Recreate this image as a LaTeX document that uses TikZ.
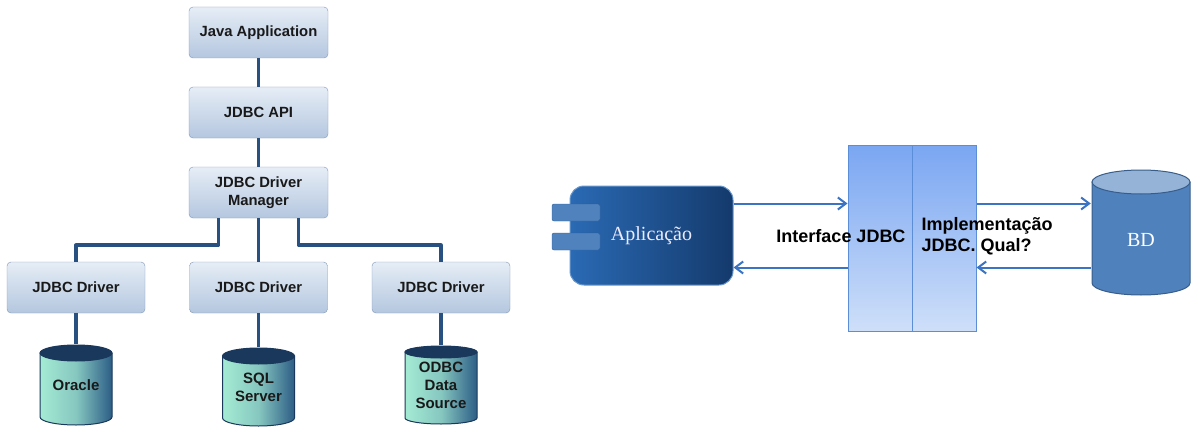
\documentclass[tikz,border=0pt]{standalone}
\usepackage{fontspec}
\setmainfont{Liberation Serif}
\setsansfont{Liberation Sans}
\usetikzlibrary{arrows.meta}

\definecolor{boxtop}{RGB}{230,237,246}
\definecolor{boxbottom}{RGB}{180,199,223}
\definecolor{boxedge}{RGB}{128,150,181}
\definecolor{linkblue}{RGB}{40,80,128}
\definecolor{dbnavy}{RGB}{26,55,92}
\definecolor{dbmint}{RGB}{165,236,212}
\definecolor{dbdark}{RGB}{42,90,132}
\definecolor{appleft}{RGB}{42,106,180}
\definecolor{appright}{RGB}{20,58,108}
\definecolor{tabfill}{RGB}{80,130,190}
\definecolor{tabedge}{RGB}{44,92,150}
\definecolor{layertop}{RGB}{122,166,242}
\definecolor{layerbottom}{RGB}{206,223,249}
\definecolor{layeredge}{RGB}{92,142,216}
\definecolor{arrowblue}{RGB}{58,116,194}
\definecolor{bdfill}{RGB}{79,129,189}
\definecolor{bdtop}{RGB}{149,179,215}
\definecolor{bdedge}{RGB}{56,93,138}

% drum drawn inside a node: x radius, y radius, body left/right colour, lid, edge
\newcommand{\drumpic}[6]{%
  \path[left color=#3, right color=#4, middle color=#3!75!#4, draw=#6, line width=1pt]
    ([shift={(1pt,#2pt+1pt)}]path picture bounding box.south west)
    -- ([shift={(1pt,-#2pt-1pt)}]path picture bounding box.north west)
    -- ([shift={(-1pt,-#2pt-1pt)}]path picture bounding box.north east)
    -- ([shift={(-1pt,#2pt+1pt)}]path picture bounding box.south east)
    arc[start angle=0, end angle=-180, x radius=#1pt, y radius=#2pt] -- cycle;
  \path[fill=#5, draw=#6, line width=1pt]
    ([yshift=-#2pt-1pt]path picture bounding box.north) ellipse[x radius=#1pt, y radius=#2pt];
}

\tikzstyle{Layer}=[rectangle, rounded corners=4, minimum width=139, minimum height=51, draw=boxedge, top color=boxtop, bottom color=boxbottom, text=black!90, align=center, font=\sffamily\bfseries\fontsize{14.8}{18}\selectfont]
\tikzstyle{Link}=[draw=linkblue, line width=3.5pt, line join=round]
\tikzstyle{Store}=[rectangle, inner sep=0, minimum width=74, minimum height=82, align=center, text=black!90, font=\sffamily\bfseries\fontsize{15}{18}\selectfont, path picture={\drumpic{36}{8}{dbmint}{dbdark}{dbnavy}{dbnavy}}]
\tikzstyle{Tier}=[rectangle, minimum width=64, minimum height=186, draw=layeredge, line width=1pt, top color=layertop, bottom color=layerbottom]
\tikzstyle{Flow}=[draw=arrowblue, line width=2pt, -{Straight Barb[length=8pt, width=12pt]}]
\tikzstyle{Caption}=[font=\sffamily\bfseries\fontsize{18}{21}\selectfont, text=black]

\begin{document}
\begin{tikzpicture}[x=1pt, y=1pt]
    \useasboundingbox (0,0) rectangle (1192,-428);

    % driver stack
    \path
    (258.5,-32.5) node[Layer] (japp) {Java Application}
    (258.5,-112.5) node[Layer] (api) {JDBC API}
    (258.5,-192.5) node[Layer] (mgr) {JDBC Driver\\Manager}
    (76,-385) node[Store] (oracle) {Oracle}
    (258.5,-387) node[Store, minimum height=80] (sqlsrv) {SQL\\Server}
    (441,-385) node[Store, minimum height=80, path picture={\drumpic{36}{6}{dbmint}{dbdark}{dbnavy}{dbnavy}}] (odbc) {ODBC\\Data\\Source}
    (76,-287.5) node[Layer, minimum width=138] (drv1) {JDBC Driver}
    (258.5,-287.5) node[Layer, minimum width=138] (drv2) {JDBC Driver}
    (441,-287.5) node[Layer, minimum width=138] (drv3) {JDBC Driver};

    \draw[Link] (japp) -- (api);
    \draw[Link] (api) -- (mgr);
    \draw[Link] ([xshift=-40]mgr.south) -- ++(0,-27) -| (drv1);
    \draw[Link] (mgr) -- (drv2);
    \draw[Link] ([xshift=40]mgr.south) -- ++(0,-27) -| (drv3);
    \draw[Link] (drv1) -- (oracle);
    \draw[Link] (drv2) -- (sqlsrv);
    \draw[Link] (drv3) -- (odbc);

    % application, JDBC layers and database
    \path
    (651.5,-235.5) node[rectangle, rounded corners=14, minimum width=163, minimum height=99, draw=appleft!70!white, line width=1pt, left color=appleft, right color=appright, text=white!92!blue, font=\fontsize{20}{24}\selectfont] (app) {Aplica\c{c}\~ao}
    (576,-212.5) node[rectangle, rounded corners=2, minimum width=48, minimum height=17, draw=tabedge, fill=tabfill] (tab1) {}
    (576,-241.5) node[rectangle, rounded corners=2, minimum width=48, minimum height=17, draw=tabedge, fill=tabfill] (tab2) {}
    (880,-238) node[Tier] (iface) {}
    (944,-238) node[Tier] (impl) {}
    (1141,-232.5) node[rectangle, inner sep=0, minimum width=100, minimum height=127, text=white, font=\fontsize{20}{24}\selectfont, path picture={\drumpic{49}{12}{bdfill}{bdfill}{bdtop}{bdedge}}] (bd) {\raisebox{-7.5pt}[\height][\depth]{BD}};

    \path
    (841,-236) node[Caption] (ifacetext) {Interface JDBC}
    (918,-236) node[Caption, anchor=west, align=left] (impltext) {Implementa\c{c}\~ao\\JDBC. Qual?};

    \draw[Flow] ([yshift=32]app.east) -- ([yshift=32]app.east -| iface.west);
    \draw[Flow] ([yshift=-32]app.east -| iface.west) -- ([yshift=-32]app.east);
    \draw[Flow] ([yshift=32]app.east -| impl.east) -- ([yshift=32]app.east -| bd.west);
    \draw[Flow] ([yshift=-32]app.east -| bd.west) -- ([yshift=-32]app.east -| impl.east);
\end{tikzpicture}
\end{document}
